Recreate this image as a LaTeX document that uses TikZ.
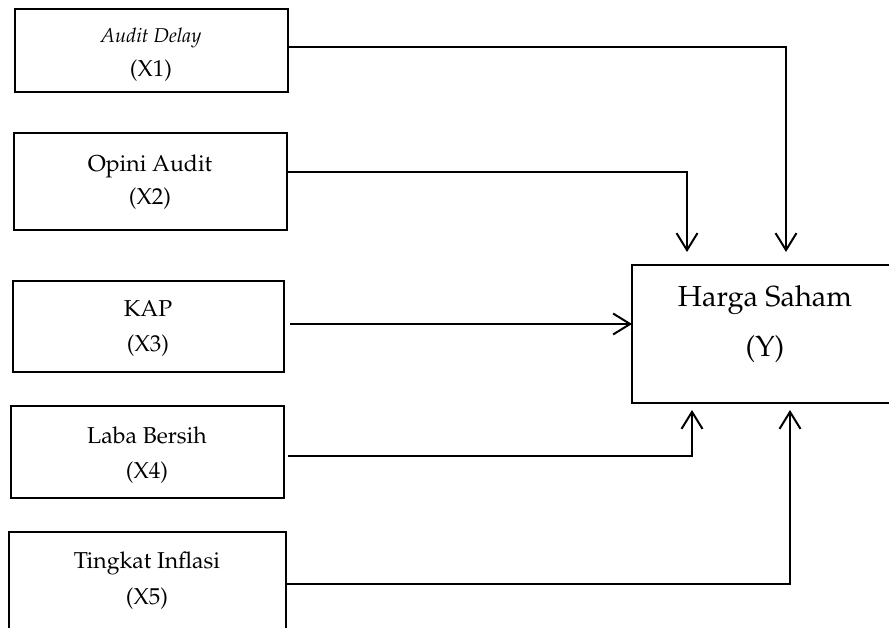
\documentclass[tikz,border=0pt]{standalone}
\usepackage[T1]{fontenc}
\usepackage{mathpazo}
\usetikzlibrary{arrows.meta}
\tikzset{
  x=1pt, y=-1pt,
  boxline/.style={draw=black, line width=1.9pt},
  conn/.style={line width=2.2pt, -{Straight Barb[length=17pt,width=21pt,line width=2pt]}},
  small/.style={font=\fontsize{23}{27}\selectfont, anchor=base, inner sep=0pt},
  big/.style={font=\fontsize{29}{34}\selectfont, anchor=base, inner sep=0pt},
}
\begin{document}
\begin{tikzpicture}
\useasboundingbox (0,0) rectangle (889,628);
\begin{scope}
\clip (0,0) rectangle (889,628);
% boxes
\draw[boxline] (15,9) rectangle (288,92);
\draw[boxline] (14,133) rectangle (287,230);
\draw[boxline] (13,281) rectangle (284,372);
\draw[boxline] (11,406) rectangle (284,498);
\draw[boxline] (9,532) rectangle (286,650);
\draw[boxline] (632,265) rectangle (910,403);
\end{scope}
\coordinate (b1) at (288,47);
\coordinate (b2) at (287,172);
\coordinate (b3) at (290,324);
\coordinate (b4) at (288,456);
\coordinate (b5) at (286,584);
\coordinate (y3) at (632,324);
\coordinate (yt1) at (786,252);
\coordinate (yt2) at (687,252);
\coordinate (yb4) at (692,410);
\coordinate (yb5) at (790,410);
% texts
\node[small] (t1a) at (151,43) {\itshape\fontsize{20}{24}\selectfont Audit Delay};
\node[small] (t1b) at (151,77) {(X1)};
\node[small] (t2a) at (150,172) {Opini Audit};
\node[small] (t2b) at (150,205) {(X2)};
\node[small] (t3a) at (148,317) {KAP};
\node[small] (t3b) at (148,352) {(X3)};
\node[small] (t4a) at (147,443) {Laba Bersih};
\node[small] (t4b) at (147,478) {(X4)};
\node[small] (t5a) at (147,568) {Tingkat Inflasi};
\node[small] (t5b) at (147,604) {(X5)};
\node[big] (ya) at (765,307) {Harga Saham};
\node[big] (yb) at (765,356) {(Y)};
% connectors
\draw[conn] (b1) -| (yt1);
\draw[conn] (b2) -| (yt2);
\draw[conn] (b3) -- (y3);
\draw[conn] (b4) -| (yb4);
\draw[conn] (b5) -| (yb5);
\end{tikzpicture}
\end{document}
